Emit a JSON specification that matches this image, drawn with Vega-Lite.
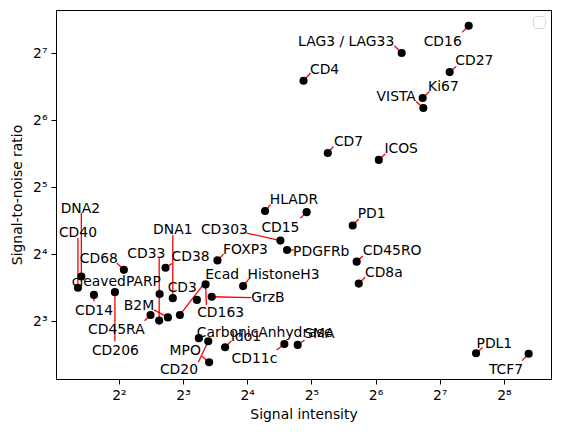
{
  "$schema": "https://vega.github.io/schema/vega-lite/v6.json",
  "autosize": "none",
  "width": 495,
  "height": 369,
  "padding": {"left": 56, "top": 10, "right": 10, "bottom": 58},
  "background": "white",
  "config": {
    "view": {"stroke": "black", "strokeWidth": 1},
    "font": "DejaVu Sans",
    "axis": {
      "domain": false,
      "grid": false,
      "tickColor": "black",
      "tickSize": 5,
      "tickWidth": 1,
      "labelFont": "DejaVu Sans",
      "labelFontSize": 13.9,
      "labelColor": "black",
      "labelPadding": 4,
      "titleFont": "DejaVu Sans",
      "titleFontSize": 13.9,
      "titleFontWeight": "normal",
      "titleColor": "black"
    }
  },
  "data": {
    "values": [
      {"name": "CD16", "x": 175.1, "y": 169.7, "lx": 132.2, "ly": 143.5, "ex": 163.1, "ey": 158.4},
      {"name": "LAG3 / LAG33", "x": 84.9, "y": 128, "lx": 46.6, "ly": 143.5, "ex": 78.5, "ey": 138.0},
      {"name": "CD27", "x": 142.6, "y": 105.1, "lx": 186.1, "ly": 118.2, "ex": 152.8, "ey": 111.4},
      {"name": "CD4", "x": 29.4, "y": 96.1, "lx": 36.9, "ly": 106.9, "ex": 31.7, "ey": 104.1},
      {"name": "Ki67", "x": 106.5, "y": 80.4, "lx": 133.3, "ly": 90.3, "ex": 114.6, "ey": 86.0},
      {"name": "VISTA", "x": 107.3, "y": 72.5, "lx": 80.0, "ly": 81.2, "ex": 99.2, "ey": 77.6},
      {"name": "CD7", "x": 38.2, "y": 45.5, "lx": 47.8, "ly": 51.0, "ex": 40.6, "ey": 48.7},
      {"name": "ICOS", "x": 66.3, "y": 42.4, "lx": 84.4, "ly": 47.6, "ex": 71.2, "ey": 45.2},
      {"name": "HLADR", "x": 19.4, "y": 25.0, "lx": 26.5, "ly": 27.9, "ex": 20.6, "ey": 26.7},
      {"name": "CD15", "x": 30.4, "y": 24.7, "lx": 22.9, "ly": 20.9, "ex": 28.4, "ey": 23.2},
      {"name": "PD1", "x": 50.0, "y": 21.5, "lx": 61.4, "ly": 24.3, "ex": 53.4, "ey": 23.0},
      {"name": "CD303", "x": 22.9, "y": 18.4, "lx": 12.5, "ly": 20.5, "ex": 15.9, "ey": 19.9},
      {"name": "PDGFRb", "x": 24.6, "y": 16.7, "lx": 35.6, "ly": 16.4, "ex": 26.5, "ey": 16.7},
      {"name": "CD45RO", "x": 52.2, "y": 14.8, "lx": 76.6, "ly": 16.55, "ex": 55.8, "ey": 15.7},
      {"name": "CD8a", "x": 53.4, "y": 11.8, "lx": 70.0, "ly": 13.1, "ex": 57.2, "ey": 12.6},
      {"name": "FOXP3", "x": 11.6, "y": 15.0, "lx": 15.7, "ly": 16.7, "ex": 12.4, "ey": 16.0},
      {"name": "HistoneH3", "x": 15.3, "y": 11.5, "lx": 23.7, "ly": 12.9, "ex": 16.3, "ey": 12.4},
      {"name": "GrzB", "x": 10.9, "y": 10.3, "lx": 20.0, "ly": 10.15, "ex": 16.7, "ey": 10.2},
      {"name": "CD163", "x": 10.2, "y": 11.7, "lx": 12.0, "ly": 8.69, "ex": 10.3, "ey": 9.47},
      {"name": "Ecad", "x": 7.73, "y": 8.53, "lx": 12.2, "ly": 12.9, "ex": 10.1, "ey": 11.9},
      {"name": "CD3", "x": 9.29, "y": 9.97, "lx": 7.93, "ly": 11.3, "ex": null, "ey": null},
      {"name": "DNA1", "x": 7.16, "y": 10.15, "lx": 7.16, "ly": 20.6, "ex": 7.16, "ey": 19.5},
      {"name": "CD38", "x": 6.62, "y": 13.9, "lx": 8.67, "ly": 15.6, "ex": 7.09, "ey": 14.5},
      {"name": "CD33", "x": 6.18, "y": 8.05, "lx": 5.38, "ly": 16.05, "ex": 6.18, "ey": 15.4},
      {"name": "cleavedPARP", "x": 6.21, "y": 10.6, "lx": 3.89, "ly": 12.0, "ex": null, "ey": null},
      {"name": "B2M", "x": 6.79, "y": 8.32, "lx": 4.97, "ly": 9.37, "ex": 5.84, "ey": 8.99},
      {"name": "CD45RA", "x": 5.63, "y": 8.53, "lx": 3.89, "ly": 7.27, "ex": 5.28, "ey": 8.03},
      {"name": "CD68", "x": 4.22, "y": 13.6, "lx": 3.222, "ly": 15.2, "ex": 3.91, "ey": 14.6},
      {"name": "CD206", "x": 3.83, "y": 10.8, "lx": 3.85, "ly": 5.90, "ex": 3.83, "ey": 6.48},
      {"name": "CD14", "x": 3.055, "y": 10.5, "lx": 3.055, "ly": 8.90, "ex": 3.055, "ey": 9.80},
      {"name": "CD40", "x": 2.569, "y": 11.3, "lx": 2.569, "ly": 19.9, "ex": 2.569, "ey": 18.9},
      {"name": "DNA2", "x": 2.665, "y": 12.7, "lx": 2.637, "ly": 25.5, "ex": 2.665, "ey": 24.5},
      {"name": "CarbonicAnhydrase", "x": 9.49, "y": 6.71, "lx": 19.3, "ly": 7.07, "ex": null, "ey": null},
      {"name": "CD20", "x": 10.5, "y": 6.50, "lx": 7.65, "ly": 4.83, "ex": 9.43, "ey": 5.23},
      {"name": "MPO", "x": 10.6, "y": 5.23, "lx": 8.19, "ly": 5.89, "ex": 9.74, "ey": 5.59},
      {"name": "Ido1", "x": 12.6, "y": 6.11, "lx": 15.8, "ly": 6.82, "ex": 13.5, "ey": 6.54},
      {"name": "CD11c", "x": 23.9, "y": 6.32, "lx": 17.3, "ly": 5.40, "ex": 22.0, "ey": 5.94},
      {"name": "SMA", "x": 27.6, "y": 6.26, "lx": 34.9, "ly": 6.99, "ex": 29.7, "ey": 6.59},
      {"name": "PDL1", "x": 189.6, "y": 5.74, "lx": 231.1, "ly": 6.30, "ex": 203.7, "ey": 6.09},
      {"name": "TCF7", "x": 334.6, "y": 5.71, "lx": 262.1, "ly": 4.83, "ex": 311.6, "ey": 5.32}
    ]
  },
  "layer": [
    {
      "transform": [{"filter": "isValid(datum.ex)"}],
      "mark": {"type": "rule", "color": "red", "strokeWidth": 1.3},
      "encoding": {
        "x": {"field": "x", "type": "quantitative", "scale": {"type": "log", "base": 2, "domain": [2.027, 426.1], "nice": false, "zero": false},
              "axis": {"values": [4, 8, 16, 32, 64, 128, 256], "title": "Signal intensity", "titlePadding": 6,
                       "labelExpr": "'2' + ['⁰','¹','²','³','⁴','⁵','⁶','⁷','⁸','⁹'][round(log(datum.value)/log(2))]"}},
        "y": {"field": "y", "type": "quantitative", "scale": {"type": "log", "base": 2, "domain": [4.40, 199.7], "nice": false, "zero": false},
              "axis": {"values": [8, 16, 32, 64, 128], "title": "Signal-to-noise ratio", "titlePadding": 8,
                       "labelExpr": "'2' + ['⁰','¹','²','³','⁴','⁵','⁶','⁷','⁸','⁹'][round(log(datum.value)/log(2))]"}},
        "x2": {"field": "ex"},
        "y2": {"field": "ey"}
      }
    },
    {
      "mark": {"type": "circle", "size": 66, "opacity": 1},
      "encoding": {
        "x": {"field": "x", "type": "quantitative"},
        "y": {"field": "y", "type": "quantitative"},
        "color": {"datum": "a", "type": "nominal", "scale": {"range": ["black"]},
                  "legend": {"orient": "top-right", "offset": 6, "title": null, "labelExpr": "''", "symbolSize": 0, "symbolOpacity": 0, "symbolStrokeWidth": 0, "labelFontSize": 1, "labelOffset": 0, "padding": 5.5, "strokeColor": "#d5d5d5", "cornerRadius": 3, "fillColor": "white"}}
      }
    },
    {
      "mark": {"type": "text", "font": "DejaVu Sans", "fontSize": 13.9, "color": "black", "align": "center", "baseline": "middle"},
      "encoding": {
        "x": {"field": "lx", "type": "quantitative"},
        "y": {"field": "ly", "type": "quantitative"},
        "text": {"field": "name"}
      }
    }
  ]
}
